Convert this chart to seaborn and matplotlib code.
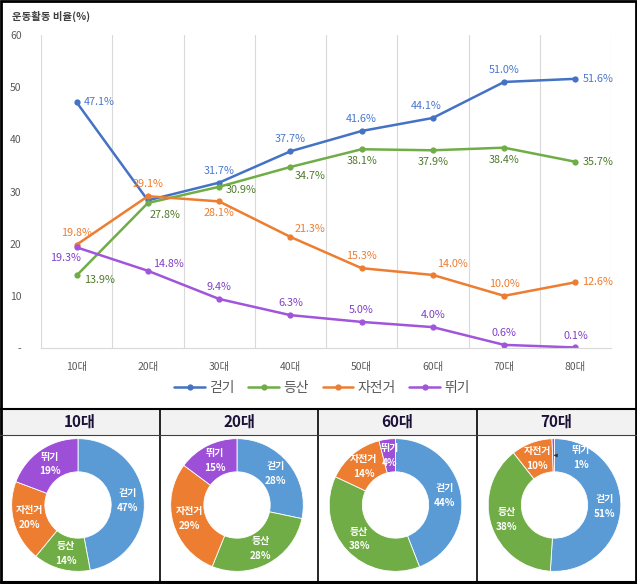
import matplotlib.pyplot as plt
import seaborn as sns
import numpy as np
import pandas as pd
from matplotlib.patches import Rectangle
from matplotlib.lines import Line2D

# data
ages = ['10대', '20대', '30대', '40대', '50대', '60대', '70대', '80대']
activities = ['걷기', '등산', '자전거', '뛰기']
walk = [47.1, 28.3, 31.7, 37.7, 41.6, 44.1, 51.0, 51.6]
hike = [13.9, 27.8, 30.9, 34.7, 38.1, 37.9, 38.4, 35.7]
bike = [19.8, 29.1, 28.1, 21.3, 15.3, 14.0, 10.0, 12.6]
run = [19.3, 14.8, 9.4, 6.3, 5.0, 4.0, 0.6, 0.1]
pie_ages = ['10대', '20대', '60대', '70대']

series = {'걷기': walk, '등산': hike, '자전거': bike, '뛰기': run}

line_colors = ['#4472C4', '#70AD47', '#ED7D31', '#A155DB']
label_colors = ['#4A78CC', '#4F7A2C', '#ED7D31', '#8040C8']
pie_colors = ['#5B9BD5', '#70AD47', '#ED7D31', '#9E4FD8']

# label placement (dx, dy in points, ha, va); None = no label
R = (5, 0, 'left', 'center')
A = (0, 5, 'center', 'bottom')
B = (0, -5, 'center', 'top')
label_pos = {
    '걷기': [R, None, A, A, A, (-5, 5, 'center', 'bottom'), A, R],
    '등산': [(5, -3, 'left', 'center'), (12, -5, 'center', 'top'), (5, -2, 'left', 'center'),
            (3, -3, 'left', 'top'), B, B, B, R],
    '자전거': [A, A, B, (3, 2, 'left', 'bottom'), A, (3, 4, 'left', 'bottom'), A, R],
    '뛰기': [(-8, -4, 'center', 'top'), (4, 1, 'left', 'bottom'), A, A, A, A, A, A],
}

sns.set_style('white')
plt.rcParams['font.family'] = ['Noto Sans CJK KR', 'DejaVu Sans']

W, H = 637, 584
fig = plt.figure(figsize=(W / 100, H / 100), dpi=100)


def fx(px):
    return px / W


def fy(py):
    return 1 - py / H


# ---- line chart
df = pd.DataFrame([(a, act, series[act][i]) for act in activities for i, a in enumerate(ages)],
                  columns=['age', 'activity', 'value'])

ax = fig.add_axes([fx(41), fy(348), fx(611) - fx(41), fy(35) - fy(348)])
sns.lineplot(data=df, x='age', y='value', hue='activity', hue_order=activities,
             palette=line_colors, marker='o', markersize=4.5, markeredgewidth=0,
             linewidth=1.8, ax=ax)

for k, act in enumerate(activities):
    for i, v in enumerate(series[act]):
        pos = label_pos[act][i]
        if pos is None:
            continue
        dx, dy, ha, va = pos
        ax.annotate(f'{v:.1f}%', (i, v), xytext=(dx, dy), textcoords='offset points',
                    ha=ha, va=va, fontsize=7.8, color=label_colors[k])

ax.set_xlim(-0.5, len(ages) - 0.5)
ax.set_ylim(0, 60)
ax.set_yticks(range(0, 61, 10))
ax.set_yticklabels(['-'] + [str(t) for t in range(10, 61, 10)])
ax.set_xticks(range(len(ages)))
ax.set_xticklabels(ages)
ax.set_xticks(np.arange(-0.5, len(ages), 1), minor=True)
ax.grid(False)
ax.grid(True, which='minor', axis='x', color='#D9D9D9', linewidth=0.8)
ax.tick_params(axis='both', which='both', length=0, labelsize=7.5, colors='#595959')
ax.tick_params(axis='x', pad=10)
ax.tick_params(axis='y', pad=14)
ax.set_xlabel('')
ax.set_ylabel('')
for s in ['top', 'left', 'right']:
    ax.spines[s].set_visible(False)
ax.spines['bottom'].set_color('#D9D9D9')

handles, labels = ax.get_legend_handles_labels()
ax.legend_.remove()
fig.legend(handles, labels, loc='center', bbox_to_anchor=(fx(322), fy(388)), ncol=4,
           frameon=False, fontsize=10, handlelength=2.2, columnspacing=1.0,
           handletextpad=0.3, labelcolor='#595959')

fig.text(fx(12), fy(16), '운동활동 비율(%)', fontsize=7.5, fontweight='bold',
         color='#404040', ha='left', va='center')

# ---- table of donuts
cols = [0, 160, 318, 477, 636]
fig.add_artist(Rectangle((0, fy(435)), 1, fy(409) - fy(435), transform=fig.transFigure,
                         facecolor='#F2F2F2', edgecolor='none', zorder=0))
for x in cols[1:-1]:
    fig.add_artist(Line2D([fx(x), fx(x)], [fy(582), fy(409)], color='black', lw=1.2))
fig.add_artist(Line2D([0, 1], [fy(409), fy(409)], color='black', lw=1.5))
fig.add_artist(Line2D([0, 1], [fy(435), fy(435)], color='#404040', lw=0.8))
fig.add_artist(Line2D([0, 1], [fy(582), fy(582)], color='black', lw=1.5))
fig.add_artist(Rectangle((0.001, 0.001), 0.998, 0.998, transform=fig.transFigure,
                         facecolor='none', edgecolor='black', lw=2))

for j, age in enumerate(pie_ages):
    i = ages.index(age)
    vals = [series[act][i] for act in activities]
    cx = (cols[j] + cols[j + 1]) / 2 - 2
    cy = 505
    r = 67
    fig.text(fx((cols[j] + cols[j + 1]) / 2), fy(422), age, fontsize=11, fontweight='bold',
             color='#1C1238', ha='center', va='center')
    pax = fig.add_axes([fx(cx - r), fy(cy + r), fx(2 * r), fy(0) - fy(2 * r)])
    wedges, _ = pax.pie(vals, colors=pie_colors, startangle=90, counterclock=False,
                        wedgeprops=dict(width=0.5, edgecolor='white', linewidth=0.6))
    pax.set_xlim(-1.01, 1.01)
    pax.set_ylim(-1.01, 1.01)
    pax.set_aspect('equal')
    for w, act, v in zip(wedges, activities, vals):
        ang = np.deg2rad((w.theta1 + w.theta2) / 2)
        x, y = 0.75 * np.cos(ang), 0.75 * np.sin(ang)
        txt = f'{act}\n{v:.0f}%'
        if v < 2:
            tx, ty = 0.4, 0.72
            pax.annotate(txt, (x, y), xytext=(tx, ty), ha='center', va='center',
                         fontsize=7.2, fontweight='bold', color='white', linespacing=1.6,
                         arrowprops=dict(arrowstyle='-|>', color='#333333', lw=0.6,
                                         mutation_scale=5, shrinkA=9, shrinkB=0))
        else:
            pax.text(x, y, txt, ha='center', va='center', fontsize=7.2, fontweight='bold',
                     color='white', linespacing=1.6)

fig.savefig('out.png', dpi=100)
